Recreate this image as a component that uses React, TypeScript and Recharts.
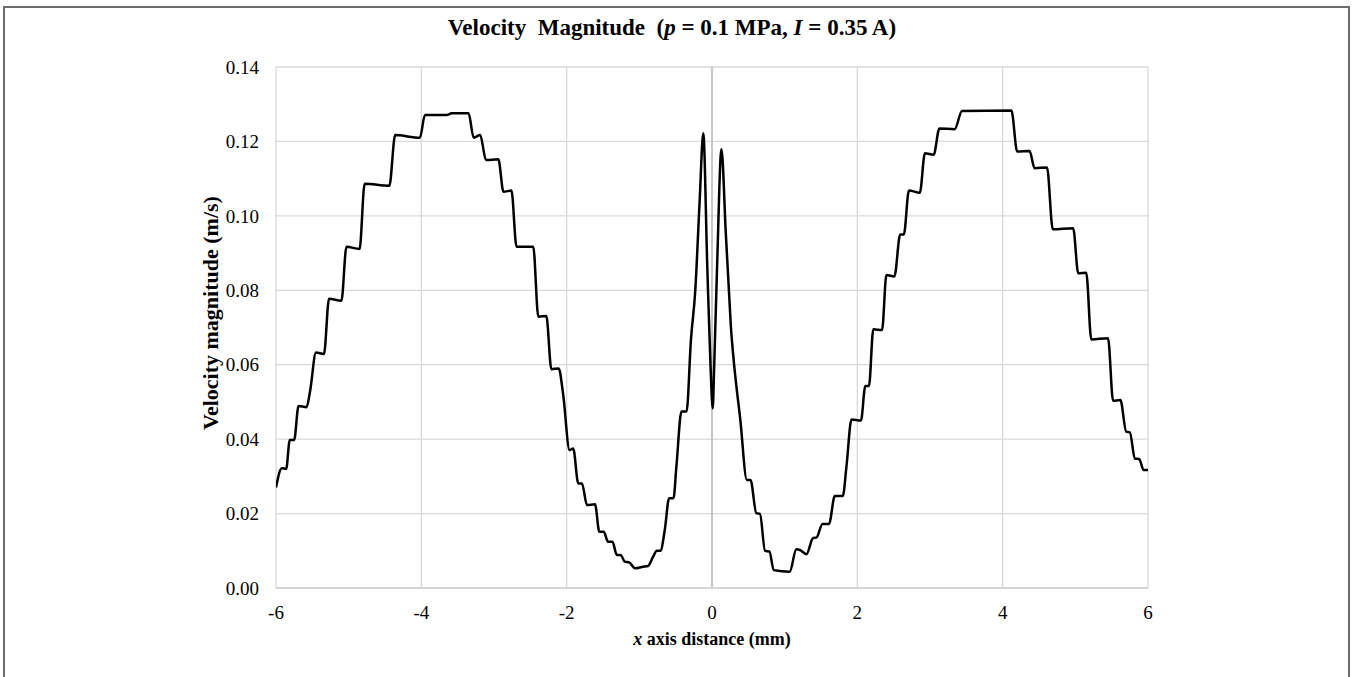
import React from "react";
import { LineChart, Line, XAxis, YAxis, CartesianGrid, ReferenceLine } from "recharts";

// x position along the axis (mm)
const xMm = [
  -6.0, -5.92, -5.86, -5.81, -5.75, -5.69, -5.58, -5.53, -5.45, -5.34,
  -5.27, -5.1, -5.03, -4.85, -4.78, -4.44, -4.36, -4.02, -3.95, -3.65,
  -3.58, -3.35, -3.28, -3.19, -3.11, -2.94, -2.87, -2.76, -2.69, -2.46,
  -2.39, -2.28, -2.21, -2.11, -2.05, -1.96, -1.91, -1.84, -1.79, -1.72,
  -1.61, -1.55, -1.49, -1.43, -1.37, -1.31, -1.26, -1.2, -1.14, -1.06,
  -0.95, -0.88, -0.81, -0.76, -0.71, -0.65, -0.59, -0.53, -0.49, -0.42,
  -0.35, -0.29, -0.23, -0.17, -0.12, -0.065, -0.02, 0.01, 0.03, 0.07,
  0.13, 0.19, 0.24, 0.26, 0.29, 0.39, 0.48, 0.53, 0.61, 0.66,
  0.73, 0.79, 0.85, 1.07, 1.16, 1.21, 1.3, 1.39, 1.44, 1.52,
  1.61, 1.69, 1.8, 1.85, 1.92, 2.05, 2.11, 2.16, 2.22, 2.34,
  2.4, 2.51, 2.59, 2.64, 2.71, 2.86, 2.93, 3.05, 3.13, 3.34,
  3.44, 4.12, 4.2, 4.37, 4.44, 4.61, 4.69, 4.97, 5.04, 5.15,
  5.22, 5.45, 5.52, 5.62, 5.7, 5.75, 5.82, 5.88, 5.94, 6.0,
];

// velocity magnitude (m/s)
const velocity = [
  0.027, 0.0322, 0.032, 0.0398, 0.0398, 0.0489, 0.0486, 0.053, 0.0633, 0.0629,
  0.0777, 0.0772, 0.0917, 0.0911, 0.1086, 0.1081, 0.1217, 0.121, 0.1271, 0.1271,
  0.1276, 0.1276, 0.121, 0.1217, 0.115, 0.1152, 0.1065, 0.1068, 0.0917, 0.0917,
  0.0729, 0.0731, 0.0588, 0.059, 0.0523, 0.0371, 0.0375, 0.0281, 0.0281, 0.0223,
  0.0225, 0.0151, 0.0151, 0.0124, 0.0124, 0.0089, 0.0089, 0.0071, 0.0069, 0.0053,
  0.0057, 0.0059, 0.0084, 0.01, 0.01, 0.0156, 0.0241, 0.0241, 0.0326, 0.0474,
  0.0474, 0.0666, 0.08, 0.104, 0.1222, 0.0864, 0.0595, 0.0483, 0.0595, 0.0864,
  0.1179, 0.0953, 0.0774, 0.0702, 0.063, 0.0451, 0.029, 0.029, 0.0201, 0.0199,
  0.01, 0.0098, 0.0048, 0.0044, 0.0104, 0.0102, 0.0091, 0.0134, 0.0136, 0.0172,
  0.0172, 0.0247, 0.0247, 0.0326, 0.0453, 0.045, 0.0543, 0.0543, 0.0695, 0.0693,
  0.0841, 0.0837, 0.095, 0.095, 0.1068, 0.1062, 0.1168, 0.1164, 0.1235, 0.1233,
  0.1282, 0.1283, 0.1173, 0.1174, 0.1128, 0.113, 0.0964, 0.0967, 0.0846, 0.0847,
  0.0668, 0.0671, 0.0503, 0.0505, 0.042, 0.0418, 0.0348, 0.0346, 0.0317, 0.0317,
];

const xTicks = [-6, -4, -2, 0, 2, 4, 6];
const yTicks = [0, 0.02, 0.04, 0.06, 0.08, 0.1, 0.12, 0.14];

const data = xMm.map((x, i) => ({ x, v: velocity[i] }));

const serif = "'Liberation Serif', 'Times New Roman', serif";
const tickStyle = { fontFamily: serif, fontSize: 19, fill: "#000" };

export default function App() {
  return (
    <div style={{ position: "absolute", left: 0, top: 0, width: 1352, height: 677, overflow: "hidden", background: "#fff" }}>
      <div
        style={{
          position: "absolute", left: 3, top: 6, width: 1343, height: 700,
          border: "2px solid #6c6c6c", boxSizing: "content-box",
        }}
      />
      <LineChart
        width={1352}
        height={677}
        data={data}
        margin={{ top: 67, right: 204, left: 196, bottom: 59 }}
        style={{ position: "absolute", left: 0, top: 0 }}
      >
        <CartesianGrid stroke="#d9d9d9" strokeWidth={1.3} />
        <XAxis
          dataKey="x"
          type="number"
          domain={[-6, 6]}
          ticks={xTicks}
          height={30}
          tickSize={0}
          tickMargin={18}
          tick={tickStyle}
          axisLine={{ stroke: "#cfcfcf", strokeWidth: 1.3 }}
          tickLine={false}
          allowDataOverflow
        />
        <YAxis
          type="number"
          domain={[0, 0.14]}
          ticks={yTicks}
          width={80}
          tickSize={0}
          tickMargin={17}
          tick={tickStyle}
          tickFormatter={(v: number) => v.toFixed(2)}
          axisLine={false}
          tickLine={false}
        />
        <ReferenceLine x={0} stroke="#bdbdbd" strokeWidth={1.5} />
        <Line
          dataKey="v"
          type="monotone"
          stroke="#000"
          strokeWidth={2.5}
          dot={false}
          isAnimationActive={false}
        />
      </LineChart>
      <div
        style={{
          position: "absolute", left: 0, width: 1344, top: 15, textAlign: "center",
          fontFamily: serif, fontWeight: "bold", fontSize: 23, whiteSpace: "pre", color: "#000",
        }}
      >
        {"Velocity  Magnitude  ("}<i>p</i>{" = 0.1 MPa, "}<i>I</i>{" = 0.35 A)"}
      </div>
      <div
        style={{
          position: "absolute", left: 412, width: 600, top: 629, textAlign: "center",
          fontFamily: serif, fontWeight: "bold", fontSize: 18, color: "#000",
        }}
      >
        <i>x</i> axis distance (mm)
      </div>
      <div
        style={{
          position: "absolute", left: 211, top: 313, width: 400, marginLeft: -200, marginTop: -12,
          height: 24, lineHeight: "24px", textAlign: "center", transform: "rotate(-90deg)",
          fontFamily: serif, fontWeight: "bold", fontSize: 22, color: "#000",
        }}
      >
        Velocity magnitude (m/s)
      </div>
    </div>
  );
}
